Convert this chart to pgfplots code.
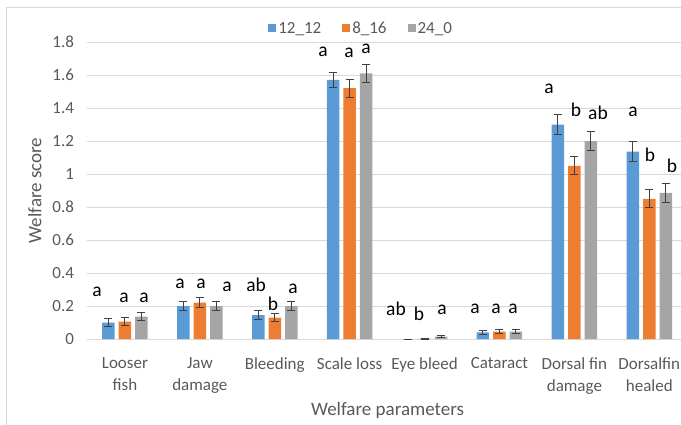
\documentclass[border=0pt]{standalone}
\usepackage{fontspec}
\setmainfont{Carlito}
\usepackage{pgfplots}
\pgfplotsset{compat=1.18}

\definecolor{c1212}{HTML}{5B9BD5}
\definecolor{c816}{HTML}{ED7D31}
\definecolor{c240}{HTML}{A5A5A5}
\definecolor{gridgray}{HTML}{D9D9D9}
\definecolor{textgray}{HTML}{595959}
\definecolor{errgray}{HTML}{404040}

\begin{document}
\begin{tikzpicture}[font=\fontsize{17}{22}\selectfont]
\useasboundingbox (-87.5pt,-85pt) rectangle (593.5pt,339pt);
% chart area frame
\draw[color=gridgray, line width=1pt] (-80.5pt,-100pt) rectangle (640pt,331pt);
\begin{axis}[
  at={(0,0)}, anchor=south west,
  scale only axis,
  width=593.5pt, height=297pt,
  xmin=-0.5, xmax=7.423,
  ymin=0, ymax=1.8,
  ybar=4pt, bar width=12.5pt,
  axis line style={draw=none},
  major tick length=0pt,
  ymajorgrids,
  grid style={color=gridgray, line width=1pt},
  ytick={0,0.2,0.4,0.6,0.8,1,1.2,1.4,1.6,1.8},
  yticklabel style={text=textgray, anchor=east, xshift=-10pt},
  /pgf/number format/assume math mode=true,
  /pgf/number format/fixed,
  /pgf/number format/precision=1,
  xtick={0,1,2,3,4,5,6,7},
  xticklabels={{Looser\\fish},{Jaw\\damage},{Bleeding},{Scale loss},{Eye bleed},{Cataract},{Dorsal fin\\damage},{Dorsalfin\\healed}},
  xticklabel style={align=center, text=textgray, anchor=north, yshift=-15pt},
  xlabel={Welfare parameters},
  ylabel={Welfare score},
  xlabel style={font=\fontsize{19}{22}\selectfont, text=textgray, at={(axis description cs:0.5055,0)}, anchor=center, yshift=-71pt},
  ylabel style={font=\fontsize{19}{22}\selectfont, text=textgray, at={(axis description cs:-0.0885,0.5)}, anchor=center},
  legend style={draw=none, fill=none, at={(axis description cs:0.461,1.0455)}, anchor=center,
    legend columns=3, text=textgray,
    /tikz/every even column/.append style={column sep=19pt}},
  legend image code/.code={\fill[#1] (0pt,-4pt) rectangle (8pt,4pt);},
  error bars/y dir=both, error bars/y explicit,
  error bars/error bar style={color=errgray, line width=1pt},
  error bars/error mark options={rotate=90, mark size=4pt, color=errgray, line width=1pt},
]
\addplot[fill=c1212, draw=none] coordinates {
  (0,0.100) +- (0,0.025)
  (1,0.200) +- (0,0.025)
  (2,0.145) +- (0,0.025)
  (3,1.570) +- (0,0.045)
  (4,0.000) +- (0,0.000)
  (5,0.040) +- (0,0.012)
  (6,1.300) +- (0,0.060)
  (7,1.135) +- (0,0.060)
};
\addplot[fill=c816, draw=none] coordinates {
  (0,0.105) +- (0,0.025)
  (1,0.220) +- (0,0.030)
  (2,0.130) +- (0,0.025)
  (3,1.520) +- (0,0.055)
  (4,0.003) +- (0,0.003)
  (5,0.045) +- (0,0.012)
  (6,1.050) +- (0,0.055)
  (7,0.850) +- (0,0.055)
};
\addplot[fill=c240, draw=none] coordinates {
  (0,0.135) +- (0,0.025)
  (1,0.200) +- (0,0.025)
  (2,0.200) +- (0,0.030)
  (3,1.610) +- (0,0.055)
  (4,0.015) +- (0,0.008)
  (5,0.045) +- (0,0.012)
  (6,1.200) +- (0,0.060)
  (7,0.885) +- (0,0.055)
};
\legend{12\_12, 8\_16, 24\_0}

% significance letters
\begin{scope}[every node/.style={inner sep=0pt, anchor=center, text=black, font=\fontsize{19.5}{22}\selectfont}]
\node at (axis cs:-0.374,0.285) {a};
\node at (axis cs:-0.013,0.248) {a};
\node at (axis cs:0.254,0.248) {a};
\node at (axis cs:0.734,0.333) {a};
\node at (axis cs:1.015,0.333) {a};
\node at (axis cs:1.362,0.315) {a};
\node at (axis cs:1.750,0.327) {ab};
\node at (axis cs:1.976,0.212) {b};
\node at (axis cs:2.243,0.303) {a};
\node at (axis cs:2.643,1.739) {a};
\node at (axis cs:2.990,1.733) {a};
\node at (axis cs:3.218,1.758) {a};
\node at (axis cs:3.618,0.182) {ab};
\node at (axis cs:3.925,0.152) {b};
\node at (axis cs:4.232,0.176) {a};
\node at (axis cs:4.673,0.182) {a};
\node at (axis cs:4.953,0.182) {a};
\node at (axis cs:5.180,0.182) {a};
\node at (axis cs:5.661,1.515) {a};
\node at (axis cs:6.021,1.388) {b};
\node at (axis cs:6.315,1.370) {ab};
\node at (axis cs:6.782,1.376) {a};
\node at (axis cs:7.010,1.115) {b};
\node at (axis cs:7.303,1.048) {b};
\end{scope}
\end{axis}
\end{tikzpicture}
\end{document}
